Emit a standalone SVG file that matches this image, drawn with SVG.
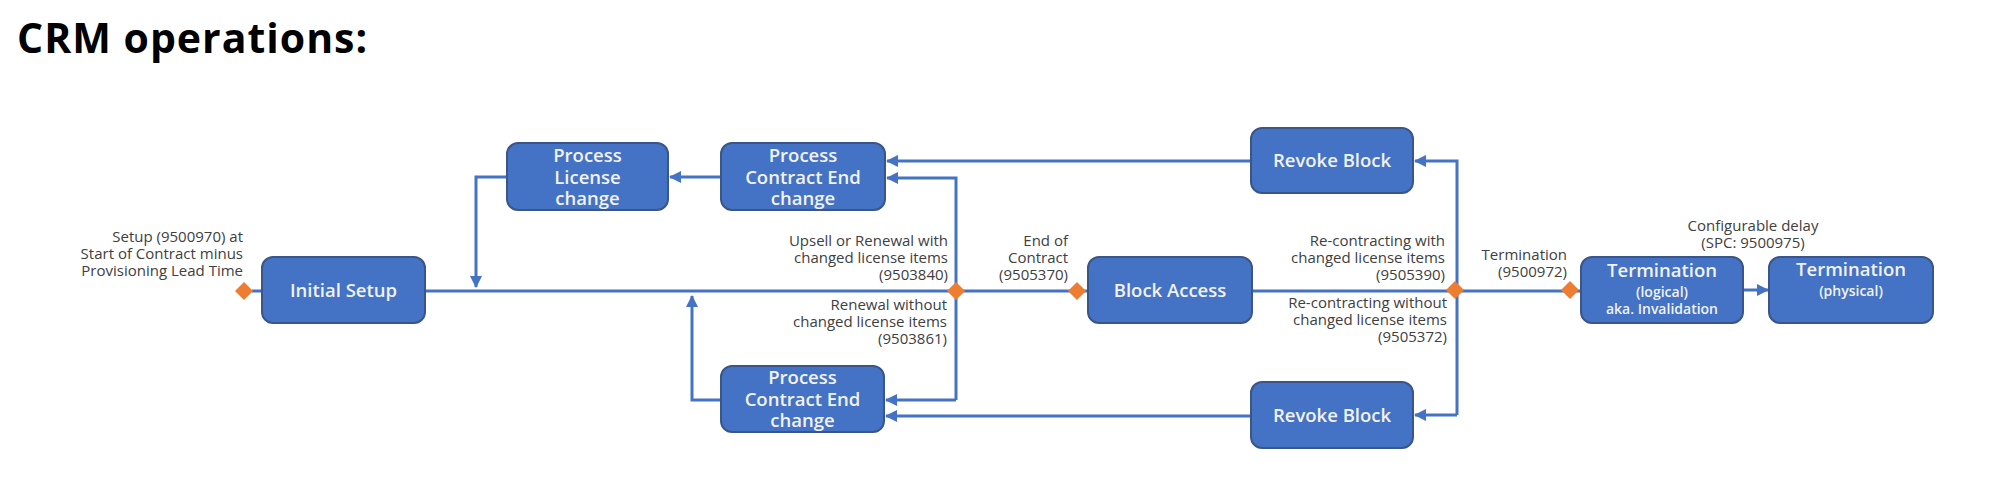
<svg xmlns="http://www.w3.org/2000/svg" width="2000" height="482" viewBox="0 0 2000 482">
<style>
.box{fill:#4472C4;stroke:#3A5688;stroke-width:2}
.bt{font-family:"Open Sans","Liberation Sans",sans-serif;font-weight:600;font-size:18.5px;fill:#F2F2F2;text-anchor:middle}
.bs{font-size:14px}
.lbl{font-family:"Open Sans","Liberation Sans",sans-serif;font-size:15px;fill:#404040;text-anchor:end}
.ln{fill:none;stroke:#4472C4;stroke-width:3}
.dm{fill:#ED7D31}
</style>
<defs>
<marker id="ah" markerUnits="userSpaceOnUse" markerWidth="12" markerHeight="12" refX="11" refY="6" orient="auto">
<path d="M0,0 L12,6 L0,12 z" fill="#4472C4"/>
</marker>
</defs>
<rect width="2000" height="482" fill="#FFFFFF"/>
<text x="17" y="53" font-family="'Open Sans','Liberation Sans',sans-serif" font-weight="700" font-size="41" letter-spacing="1" fill="#000">CRM operations:</text>

<g id="connectors">
<line class="ln" x1="252" y1="291" x2="262" y2="291"/>
<line class="ln" x1="425" y1="291" x2="1077" y2="291"/>
<line class="ln" x1="1077" y1="291" x2="1088" y2="291"/>
<line class="ln" x1="1252" y1="291" x2="1581" y2="291"/>
<line class="ln" x1="1743" y1="290" x2="1768" y2="290" marker-end="url(#ah)"/>
<polyline class="ln" points="956,400 956,178 887,178" marker-end="url(#ah)"/>
<line class="ln" x1="956" y1="400" x2="886" y2="400" marker-end="url(#ah)"/>
<line class="ln" x1="721" y1="177" x2="670" y2="177" marker-end="url(#ah)"/>
<polyline class="ln" points="507,177 476,177 476,287" marker-end="url(#ah)"/>
<polyline class="ln" points="721,400 692,400 692,296" marker-end="url(#ah)"/>
<polyline class="ln" points="1457,415 1457,161 1415,161" marker-end="url(#ah)"/>
<line class="ln" x1="1457" y1="415" x2="1415" y2="415" marker-end="url(#ah)"/>
<line class="ln" x1="1251" y1="161" x2="887" y2="161" marker-end="url(#ah)"/>
<line class="ln" x1="1251" y1="416" x2="886" y2="416" marker-end="url(#ah)"/>
<path class="dm" d="M244,282 L253,291 L244,300 L235,291 z"/>
<path class="dm" d="M956,282 L965,291 L956,300 L947,291 z"/>
<path class="dm" d="M1077,282 L1086,291 L1077,300 L1068,291 z"/>
<path class="dm" d="M1455,281 L1464,290 L1455,299 L1446,290 z"/>
<path class="dm" d="M1570,281 L1579,290 L1570,299 L1561,290 z"/>
</g>

<g id="labels">
<text class="lbl"><tspan x="243" y="242">Setup (9500970) at</tspan><tspan x="243" y="259">Start of Contract minus</tspan><tspan x="243" y="276">Provisioning Lead Time</tspan></text>
<text class="lbl"><tspan x="948" y="246">Upsell or Renewal with</tspan><tspan x="948" y="263">changed license items</tspan><tspan x="948" y="280">(9503840)</tspan></text>
<text class="lbl"><tspan x="947" y="310">Renewal without</tspan><tspan x="947" y="327">changed license items</tspan><tspan x="947" y="344">(9503861)</tspan></text>
<text class="lbl"><tspan x="1068" y="246">End of</tspan><tspan x="1068" y="263">Contract</tspan><tspan x="1068" y="280">(9505370)</tspan></text>
<text class="lbl"><tspan x="1445" y="246">Re-contracting with</tspan><tspan x="1445" y="263">changed license items</tspan><tspan x="1445" y="280">(9505390)</tspan></text>
<text class="lbl"><tspan x="1447" y="308">Re-contracting without</tspan><tspan x="1447" y="325">changed license items</tspan><tspan x="1447" y="342">(9505372)</tspan></text>
<text class="lbl"><tspan x="1567" y="260">Termination</tspan><tspan x="1567" y="277">(9500972)</tspan></text>
<text class="lbl" style="text-anchor:middle"><tspan x="1753" y="231">Configurable delay</tspan><tspan x="1753" y="248">(SPC: 9500975)</tspan></text>
</g>

<g id="initial-setup">
<rect class="box" x="262" y="257" width="163" height="66" rx="11"/>
<text class="bt" x="343.5" y="297">Initial Setup</text>
</g>
<g id="process-license-change">
<rect class="box" x="507" y="143" width="161" height="67" rx="11"/>
<text class="bt"><tspan x="587.5" y="162">Process</tspan><tspan x="587.5" y="184">License</tspan><tspan x="587.5" y="205">change</tspan></text>
</g>
<g id="process-contract-end-top">
<rect class="box" x="721" y="143" width="164" height="67" rx="11"/>
<text class="bt"><tspan x="803" y="162">Process</tspan><tspan x="803" y="184">Contract End</tspan><tspan x="803" y="205">change</tspan></text>
</g>
<g id="process-contract-end-bottom">
<rect class="box" x="721" y="366" width="163" height="66" rx="11"/>
<text class="bt"><tspan x="802.5" y="384">Process</tspan><tspan x="802.5" y="406">Contract End</tspan><tspan x="802.5" y="427">change</tspan></text>
</g>
<g id="block-access">
<rect class="box" x="1088" y="257" width="164" height="66" rx="11"/>
<text class="bt" x="1170" y="297">Block Access</text>
</g>
<g id="revoke-block-top">
<rect class="box" x="1251" y="128" width="162" height="65" rx="11"/>
<text class="bt" x="1332" y="167">Revoke Block</text>
</g>
<g id="revoke-block-bottom">
<rect class="box" x="1251" y="382" width="162" height="66" rx="11"/>
<text class="bt" x="1332" y="422">Revoke Block</text>
</g>
<g id="termination-logical">
<rect class="box" x="1581" y="257" width="162" height="66" rx="11"/>
<text class="bt"><tspan x="1662" y="277">Termination</tspan><tspan class="bs" x="1662" y="297">(logical)</tspan><tspan class="bs" x="1662" y="314">aka. Invalidation</tspan></text>
</g>
<g id="termination-physical">
<rect class="box" x="1769" y="257" width="164" height="66" rx="11"/>
<text class="bt"><tspan x="1851" y="276">Termination</tspan><tspan class="bs" x="1851" y="296">(physical)</tspan></text>
</g>
</svg>
